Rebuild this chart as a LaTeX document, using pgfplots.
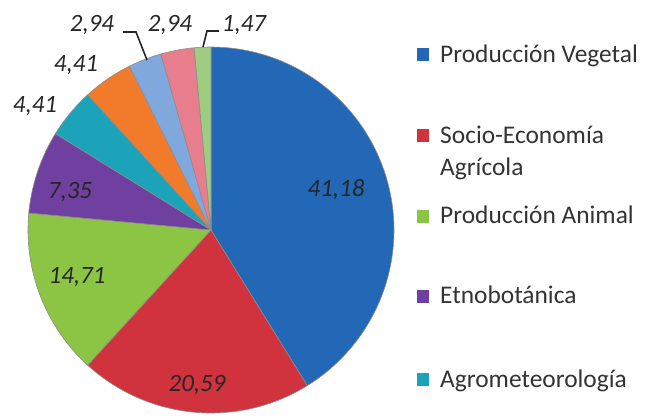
\documentclass[border=0pt]{standalone}
\usepackage{pgfplots}
\usepackage{pgfplotstable}
\pgfplotsset{compat=1.18}
\usepackage{fontspec}
\setmainfont{Carlito}

\definecolor{cVeg}{HTML}{2268B6}
\definecolor{cSoc}{HTML}{D0323E}
\definecolor{cAni}{HTML}{8CC443}
\definecolor{cEtn}{HTML}{7040A0}
\definecolor{cAgr}{HTML}{1CA3BA}
\definecolor{cOra}{HTML}{F27A2B}
\definecolor{cLbl}{HTML}{80A8DC}
\definecolor{cPnk}{HTML}{E77D8D}
\definecolor{cLgr}{HTML}{9ECC80}

% porcentajes, en sentido horario desde arriba
\pgfplotstableread{
val col
41.18 cVeg
20.59 cSoc
14.71 cAni
7.35 cEtn
4.41 cAgr
4.41 cOra
2.94 cLbl
2.94 cPnk
1.47 cLgr
}\pietable

\begin{document}
\begin{tikzpicture}
\begin{axis}[
    scale only axis,
    width=648bp, height=418bp,
    xmin=0, xmax=648, ymin=0, ymax=418,
    y dir=reverse,
    hide axis,
    clip=false,
]
\pgfmathsetmacro\angA{90}
\pgfplotstablegetrowsof{\pietable}
\pgfmathtruncatemacro\N{\pgfplotsretval-1}
\pgfplotsforeachungrouped \i in {0,...,\N}{
    \pgfplotstablegetelem{\i}{val}\of\pietable \let\v\pgfplotsretval
    \pgfplotstablegetelem{\i}{col}\of\pietable \let\c\pgfplotsretval
    \pgfmathsetmacro\angB{\angA-3.6*\v}
    \edef\doslice{\noexpand\addplot[fill=\c, draw=black!45, line width=0.6pt,
        domain=\angB:\angA, samples=80]
        ({211+183*cos(x)},{230-183*sin(x)}) -- (axis cs:211,230) -- cycle;}
    \doslice
    \global\let\angA\angB
}

% etiquetas
\begin{scope}[every node/.style={font=\fontsize{25}{30}\selectfont\itshape, text=black!85, inner sep=0pt}]
\node at (axis cs:336,190) {41,18};
\node at (axis cs:197,385) {20,59};
\node at (axis cs:77,277) {14,71};
\node at (axis cs:70,192) {7,35};
\node at (axis cs:35,106) {4,41};
\node at (axis cs:76,65) {4,41};
\node at (axis cs:92,25) {2,94};
\node at (axis cs:170,25) {2,94};
\node at (axis cs:244,25) {1,47};
\end{scope}
\draw[line width=1.6pt, black!85] (axis cs:123,32) -- (axis cs:136,32) -- (axis cs:147,60);
\draw[line width=1.6pt, black!85] (axis cs:219,31) -- (axis cs:207,31) -- (axis cs:203,47);

% leyenda
\begin{scope}[every node/.style={font=\fontsize{25.5}{32}\selectfont, text=black!80, inner sep=0pt, anchor=base west, align=left}]
\fill[cVeg] (axis cs:417,48) rectangle (axis cs:429,61);
\node at (axis cs:440,63) {Producción Vegetal};
\fill[cSoc] (axis cs:417,129) rectangle (axis cs:429,142);
\node at (axis cs:440,143) {Socio-Economía};
\node at (axis cs:440,175) {Agrícola};
\fill[cAni] (axis cs:417,210) rectangle (axis cs:429,223);
\node at (axis cs:440,223) {Producción Animal};
\fill[cEtn] (axis cs:417,290) rectangle (axis cs:429,303);
\node at (axis cs:440,303) {Etnobotánica};
\fill[cAgr] (axis cs:417,373) rectangle (axis cs:429,386);
\node at (axis cs:440,387) {Agrometeorología};
\end{scope}
\end{axis}
\pgfresetboundingbox
\path (current axis.south west) rectangle (current axis.north east);
\end{tikzpicture}
\end{document}
